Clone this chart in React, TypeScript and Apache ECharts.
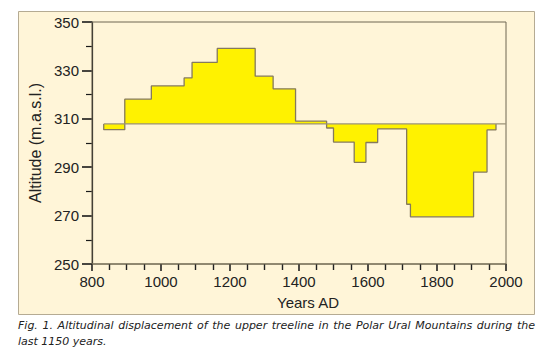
import React, { useEffect, useRef } from "react";
import * as echarts from "echarts";

// Step periods (years AD) and treeline altitude (m a.s.l.)
const periodStart = [834, 895, 972, 1067, 1090, 1163, 1273, 1325, 1390, 1480, 1500, 1560, 1594, 1628, 1712, 1723, 1906, 1945];
const periodEnd = [895, 972, 1067, 1090, 1163, 1273, 1325, 1390, 1480, 1500, 1560, 1594, 1628, 1712, 1723, 1906, 1945, 1971];
const altitude = [305.5, 318.1, 323.6, 326.9, 333.3, 339.1, 327.6, 322.4, 309.0, 306.2, 300.4, 292.0, 300.2, 305.8, 274.7, 269.5, 288.0, 305.4];
const baselineAltitude = 307.9;
const xTicks = { min: 800, max: 2000, step: 200 };
const yTicks = { min: 250, max: 350, step: 20 };
const captionLine1 = "Fig. 1. Altitudinal displacement of the upper treeline in the Polar Ural Mountains during the";
const captionLine2 = "last 1150 years.";

const FONT = "'Liberation Sans', Arial, Helvetica, sans-serif";
const CAPTION_FONT = "italic 11px 'DejaVu Sans', sans-serif";

export default function App() {
  const ref = useRef<HTMLDivElement>(null);
  useEffect(() => {
    if (!ref.current) return;
    const chart = echarts.init(ref.current, undefined, { renderer: "svg" });

    const pts: number[][] = [];
    pts.push([periodStart[0], baselineAltitude]);
    for (let i = 0; i < altitude.length; i++) {
      pts.push([periodStart[i], altitude[i]]);
      pts.push([periodEnd[i], altitude[i]]);
    }
    pts.push([periodEnd[periodEnd.length - 1], baselineAltitude]);

    // justified first caption line
    const capLeft = 18;
    const capRight = 535;
    const words = captionLine1.split(" ");
    const canvas = document.createElement("canvas");
    const ctx = canvas.getContext("2d");
    let widths: number[] = words.map(() => 0);
    if (ctx) {
      ctx.font = CAPTION_FONT;
      widths = words.map((w) => ctx.measureText(w).width);
    }
    const total = widths.reduce((a, b) => a + b, 0);
    const gap = words.length > 1 ? (capRight - capLeft - total) / (words.length - 1) : 0;
    let cx = capLeft;
    const wordEls: any[] = words.map((w, i) => {
      const el = {
        type: "text",
        z: 10,
        x: cx,
        y: 320,
        style: { text: w, fill: "#222", font: CAPTION_FONT, align: "left", verticalAlign: "top" },
      };
      cx += widths[i] + gap;
      return el;
    });

    chart.setOption({
      animation: false,
      backgroundColor: "#ffffff",
      textStyle: { fontFamily: FONT },
      grid: {
        left: 92,
        right: 43,
        top: 22,
        bottom: 89,
        show: true,
        borderColor: "#6e6752",
        borderWidth: 1,
        backgroundColor: "transparent",
        z: 1,
      },
      graphic: [
        {
          type: "rect",
          z: -10,
          shape: { x: 18.5, y: 11.5, width: 516, height: 303 },
          style: { fill: "#fff5d8", stroke: "#b5ab93", lineWidth: 1 },
        },
        {
          type: "text",
          z: 10,
          x: 308,
          y: 302,
          style: {
            text: "Years AD",
            fill: "#222",
            font: `15px ${FONT}`,
            align: "center",
            verticalAlign: "middle",
          },
        },
        ...wordEls,
        {
          type: "text",
          z: 10,
          x: capLeft,
          y: 336,
          style: { text: captionLine2, fill: "#222", font: CAPTION_FONT, align: "left", verticalAlign: "top" },
        },
      ],
      xAxis: {
        type: "value",
        min: xTicks.min,
        max: xTicks.max,
        interval: xTicks.step,
        axisLine: { show: true, lineStyle: { color: "#9b9277", width: 1.5 } },
        axisTick: { show: true, length: 7, lineStyle: { color: "#222", width: 1.6 } },
        minorTick: { show: true, splitNumber: 4, length: 6, lineStyle: { color: "#222", width: 1.4 } },
        axisLabel: { color: "#222", fontSize: 15, margin: 10, fontFamily: FONT, formatter: (v: number) => String(v) },
        splitLine: { show: false },
      },
      yAxis: {
        type: "value",
        min: yTicks.min,
        max: yTicks.max,
        interval: yTicks.step,
        name: "Altitude (m.a.s.l.)",
        nameLocation: "middle",
        nameGap: 41,
        nameRotate: 90,
        nameTextStyle: { color: "#222", fontSize: 16, fontFamily: FONT },
        axisLine: { show: true, lineStyle: { color: "#1a1a1a", width: 1.2 } },
        axisTick: { show: true, length: 10, lineStyle: { color: "#1a1a1a", width: 1.6 } },
        minorTick: { show: true, splitNumber: 2, length: 6, lineStyle: { color: "#1a1a1a", width: 1.2 } },
        axisLabel: { color: "#222", fontSize: 15, margin: 13, fontFamily: FONT, formatter: (v: number) => String(v) },
        splitLine: { show: false },
      },
      series: [
        {
          type: "line",
          data: pts,
          symbol: "none",
          z: 3,
          lineStyle: { color: "#857a5c", width: 1.3 },
          areaStyle: { color: "#fff200", opacity: 1, origin: baselineAltitude },
        },
        {
          type: "line",
          data: [
            [periodStart[0], baselineAltitude],
            [xTicks.max, baselineAltitude],
          ],
          symbol: "none",
          z: 4,
          lineStyle: { color: "#9b9277", width: 1.3 },
        },
      ],
    });
    return () => chart.dispose();
  }, []);
  return (
    <div
      ref={ref}
      style={{ position: "fixed", left: 0, top: 0, width: 549, height: 353 }}
    />
  );
}
